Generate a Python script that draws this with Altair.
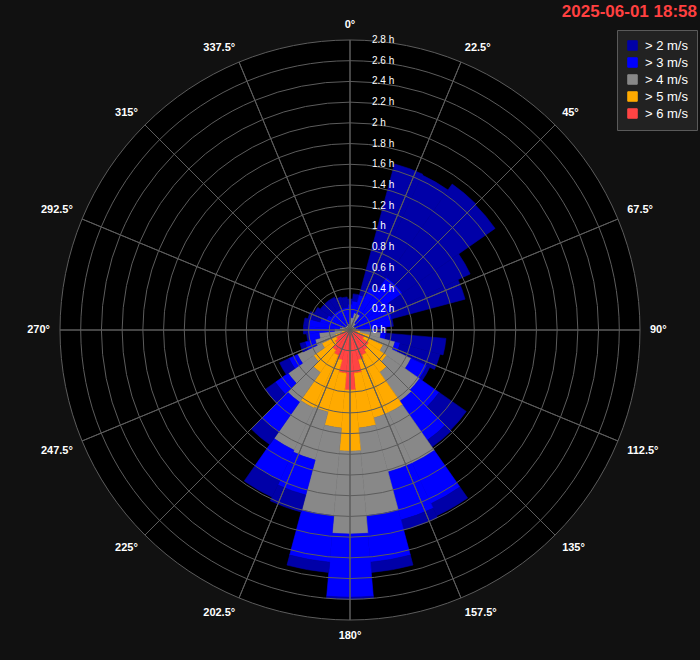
import math
import altair as alt
import pandas as pd

# Wind rose: hours per 10-degree direction bin, split by wind-speed class
directions = list(range(0, 360, 10))
speed_classes = ["> 2 m/s", "> 3 m/s", "> 4 m/s", "> 5 m/s", "> 6 m/s"]
class_colors = ["#0000a8", "#0000ff", "#888888", "#ffaa00", "#ff4444"]

hours_gt6 = [0.01, 0.01, 0.01, 0.01, 0.01, 0.01, 0.01, 0.01, 0.01, 0.02, 0.03, 0.08,
             0.15, 0.22, 0.24, 0.27, 0.30, 0.42, 0.58, 0.42, 0.30, 0.27, 0.24, 0.18,
             0.15, 0.10, 0.03, 0.01, 0.01, 0.01, 0.01, 0.01, 0.01, 0.01, 0.01, 0.01]
hours_gt5 = [0.01, 0.01, 0.01, 0.01, 0.01, 0.01, 0.01, 0.01, 0.02, 0.03, 0.07, 0.12,
             0.20, 0.21, 0.26, 0.61, 0.58, 0.53, 0.59, 0.53, 0.52, 0.56, 0.26, 0.25,
             0.15, 0.05, 0.05, 0.02, 0.01, 0.01, 0.01, 0.01, 0.01, 0.01, 0.01, 0.01]
hours_gt4 = [0.06, 0.10, 0.15, 0.15, 0.06, 0.03, 0.03, 0.03, 0.03, 0.03, 0.20, 0.25,
             0.30, 0.39, 0.34, 0.54, 0.54, 0.85, 0.80, 0.85, 0.48, 0.45, 0.35, 0.30,
             0.26, 0.20, 0.22, 0.12, 0.08, 0.06, 0.04, 0.03, 0.03, 0.03, 0.03, 0.04]
hours_gt3 = [0.17, 0.16, 0.18, 0.28, 0.54, 0.57, 0.40, 0.37, 0.34, 0.17, 0.05, 0.05,
             0.17, 0.23, 0.46, 0.43, 0.48, 0.45, 0.61, 0.45, 0.35, 0.32, 0.35, 0.15,
             0.09, 0.10, 0.10, 0.25, 0.30, 0.22, 0.19, 0.17, 0.17, 0.17, 0.17, 0.16]
hours_gt2 = [0.05, 0.07, 1.31, 1.20, 1.10, 1.09, 0.83, 0.73, 0.02, 0.10, 0.58, 0.40,
             0.03, 0.32, 0.08, 0.13, 0.10, 0.10, 0.02, 0.10, 0.17, 0.18, 0.15, 0.12,
             0.10, 0.05, 0.02, 0.05, 0.05, 0.12, 0.13, 0.13, 0.13, 0.13, 0.11, 0.10]

hour_ticks = [0, 0.2, 0.4, 0.6, 0.8, 1, 1.2, 1.4, 1.6, 1.8, 2, 2.2, 2.4, 2.6, 2.8]
angle_ticks = [0, 22.5, 45, 67.5, 90, 112.5, 135, 157.5, 180,
               202.5, 225, 247.5, 270, 292.5, 315, 337.5]
title_text = "2025-06-01 18:58"

R_MAX = 2.8
R_PX = 290
LABEL_R = 300
TWO_PI = 2 * math.pi
BIN = 10

# stack from the centre outwards: fastest class innermost
series_inner_to_outer = [
    ("> 6 m/s", hours_gt6),
    ("> 5 m/s", hours_gt5),
    ("> 4 m/s", hours_gt4),
    ("> 3 m/s", hours_gt3),
    ("> 2 m/s", hours_gt2),
]
rows = []
for i, d in enumerate(directions):
    base = 0.0
    for name, values in series_inner_to_outer:
        top = base + values[i]
        rows.append({"dir": d, "t0": d - BIN / 2, "t1": d + BIN / 2,
                     "r0": base, "r1": top, "cls": name})
        base = top
bars_df = pd.DataFrame(rows)

theta_scale = alt.Scale(domain=[0, 360], range=[0, TWO_PI], nice=False, zero=False)
radius_scale = alt.Scale(type="linear", domain=[0, R_MAX], range=[0, R_PX],
                         nice=False, zero=True)

disc = alt.Chart(pd.DataFrame({"r": [R_MAX]})).mark_arc(color="#000000").encode(
    theta=alt.value(0), theta2=alt.value(TWO_PI),
    radius=alt.Radius("r:Q", scale=radius_scale, stack=None),
)

bars = alt.Chart(bars_df).mark_arc(strokeWidth=0.6).encode(
    theta=alt.Theta("t0:Q", scale=theta_scale, stack=None),
    theta2="t1:Q",
    radius=alt.Radius("r1:Q", scale=radius_scale, stack=None),
    radius2="r0:Q",
    color=alt.Color("cls:N", scale=alt.Scale(domain=speed_classes, range=class_colors),
                    legend=alt.Legend(title=None)),
    stroke=alt.Stroke("cls:N", scale=alt.Scale(domain=speed_classes, range=class_colors),
                      legend=None),
)

rings = alt.Chart(pd.DataFrame({"r": hour_ticks[1:]})).mark_arc(
    filled=False, stroke="#5c5c5c", strokeWidth=1
).encode(
    theta=alt.value(0), theta2=alt.value(TWO_PI),
    radius=alt.Radius("r:Q", scale=radius_scale, stack=None),
)

spokes = alt.Chart(pd.DataFrame({"ang": angle_ticks, "r": [R_MAX] * len(angle_ticks)})).mark_arc(
    filled=False, stroke="#5c5c5c", strokeWidth=1
).encode(
    theta=alt.Theta("ang:Q", scale=theta_scale, stack=None),
    theta2="ang:Q",
    radius=alt.Radius("r:Q", scale=radius_scale, stack=None),
)

hour_labels = alt.Chart(pd.DataFrame({
    "h": hour_ticks, "label": [f"{v:g} h" for v in hour_ticks]
})).mark_text(align="left", baseline="middle", dx=22, fontSize=10,
              font="Liberation Sans", color="#ffffff").encode(
    theta=alt.value(0),
    radius=alt.Radius("h:Q", scale=radius_scale, stack=None),
    text="label:N",
)

# direction labels: anchored just outside the grid, aligned away from the centre
angle_df = pd.DataFrame({"ang": angle_ticks, "label": [f"{a:g}°" for a in angle_ticks]})


def angle_label_layer(predicate, align, baseline):
    return alt.Chart(angle_df).transform_filter(predicate).mark_text(
        align=align, baseline=baseline, fontSize=11, fontWeight="bold",
        font="Liberation Sans", color="#ffffff"
    ).encode(
        theta=alt.Theta("ang:Q", scale=theta_scale, stack=None),
        radius=alt.value(LABEL_R),
        text="label:N",
    )


angle_layers = [
    angle_label_layer("datum.ang == 0", "center", "bottom"),
    angle_label_layer("datum.ang == 180", "center", "top"),
    angle_label_layer("datum.ang > 0 && datum.ang < 90", "left", "bottom"),
    angle_label_layer("datum.ang == 90", "left", "middle"),
    angle_label_layer("datum.ang > 90 && datum.ang < 180", "left", "top"),
    angle_label_layer("datum.ang > 180 && datum.ang < 270", "right", "top"),
    angle_label_layer("datum.ang == 270", "right", "middle"),
    angle_label_layer("datum.ang > 270", "right", "bottom"),
]

title = alt.Chart(pd.DataFrame({"t": [title_text]})).mark_text(
    align="right", baseline="middle", fontSize=17, fontWeight="bold",
    font="Liberation Sans", color="#ff4040"
).encode(x=alt.value(697), y=alt.value(12), text="t:N")

chart = alt.layer(disc, bars, rings, spokes, hour_labels, *angle_layers, title).properties(
    width=700, height=660, autosize="none", padding=0, background="#111111"
).configure_view(stroke=None).configure_legend(
    orient="none", legendX=617, legendY=30, fillColor="#222222", strokeColor="#5a5a5a",
    padding=9, rowPadding=2, labelColor="#ffffff", labelFontSize=13,
    labelFont="Liberation Sans", symbolType="square", symbolSize=90,
    symbolStrokeColor="#000000", symbolStrokeWidth=1, symbolOpacity=1, labelOffset=6,
)

chart.save("out.html", embed_options={"renderer": "svg", "actions": False})
